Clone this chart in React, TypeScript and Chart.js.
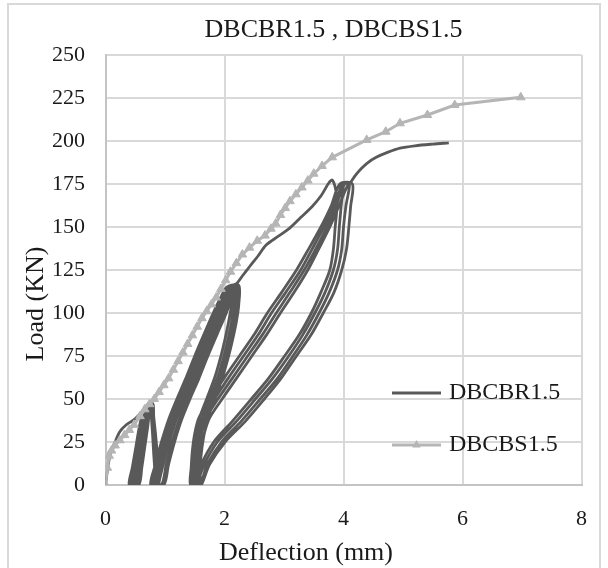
import React, { useEffect, useRef } from "react";
import { Chart, registerables } from "chart.js";

Chart.register(...registerables);

// ---------- text ----------
const chartTitle = "DBCBR1.5 , DBCBS1.5";
const xAxisTitle = "Deflection (mm)";
const yAxisTitle = "Load (KN)";
const seriesNames = ["DBCBR1.5", "DBCBS1.5"];

// ---------- axes ----------
const xMin = 0, xMax = 8, xStep = 2;
const yMin = 0, yMax = 250, yStep = 25;

// ---------- DBCBR1.5 (cyclic test) ----------
// initial loading
const brInitX = [0, 0.05, 0.1, 0.16, 0.24, 0.35, 0.48, 0.6, 0.72, 0.78];
const brInitY = [0, 13, 20, 25, 31, 35, 38, 42, 46, 48];

// level 1 (~47 kN)
const l1Y = [0, 10, 22, 34, 42, 47];
const l1aX = [0.4, 0.45, 0.51, 0.57, 0.63, 0.71];
const l1bX = [0.44, 0.49, 0.55, 0.61, 0.66, 0.73];
const l1cX = [0.48, 0.53, 0.59, 0.65, 0.69, 0.75];
const l1dX = [0.52, 0.57, 0.63, 0.68, 0.72, 0.77];
const l1eX = [0.56, 0.61, 0.66, 0.71, 0.74, 0.79];
const l1fX = [0.46, 0.51, 0.57, 0.63, 0.67, 0.74];
const r1Y = [47, 40, 30, 18, 8, 0];
const r1aX = [0.76, 0.77, 0.79, 0.81, 0.83, 0.84];
const r1bX = [0.78, 0.79, 0.81, 0.84, 0.86, 0.87];
const r1cX = [0.8, 0.81, 0.84, 0.87, 0.89, 0.9];

// level 2 (~115 kN)
const l2Y = [0, 12, 25, 38, 50, 62, 75, 88, 100, 110, 115];
const l2aX = [0.76, 0.84, 0.94, 1.06, 1.2, 1.35, 1.5, 1.66, 1.81, 1.95, 2.04];
const l2bX = [0.8, 0.88, 0.98, 1.1, 1.24, 1.39, 1.54, 1.7, 1.86, 1.99, 2.07];
const l2cX = [0.85, 0.93, 1.03, 1.15, 1.29, 1.44, 1.59, 1.75, 1.9, 2.02, 2.09];
const l2dX = [0.89, 0.97, 1.07, 1.19, 1.33, 1.48, 1.63, 1.79, 1.94, 2.06, 2.12];
const l2eX = [0.94, 1.02, 1.12, 1.24, 1.38, 1.53, 1.68, 1.84, 1.99, 2.1, 2.15];
const l2fX = [0.98, 1.06, 1.16, 1.28, 1.42, 1.57, 1.72, 1.88, 2.03, 2.13, 2.18];
const l2gX = [0.82, 0.9, 1.0, 1.12, 1.26, 1.41, 1.56, 1.72, 1.88, 2.0, 2.08];
const r2Y = [116, 105, 95, 85, 75, 63, 50, 40, 28, 15, 0];
const r2aX = [2.16, 2.12, 2.07, 2.01, 1.94, 1.84, 1.7, 1.59, 1.51, 1.46, 1.44];
const r2bX = [2.18, 2.16, 2.12, 2.06, 1.99, 1.89, 1.75, 1.64, 1.56, 1.51, 1.49];
const r2cX = [2.21, 2.2, 2.16, 2.1, 2.03, 1.93, 1.79, 1.68, 1.6, 1.55, 1.53];
const r2dX = [2.24, 2.24, 2.2, 2.14, 2.07, 1.97, 1.84, 1.73, 1.65, 1.6, 1.58];

// envelope from level 2 to level 3
const envX = [2.2, 2.3, 2.42, 2.56, 2.7, 2.9, 3.09, 3.28, 3.47, 3.62, 3.75, 3.81, 3.87];
const envY = [117, 121.5, 126.9, 133, 139.5, 144.5, 149.2, 155.5, 161.8, 168, 175.4, 177.3, 171.5];

// level 3 (~175 kN)
const r3Y = [175, 162, 150, 137, 125, 112, 100, 87, 75, 62, 50, 37, 25, 12, 0];
const r3aX = [3.92, 3.89, 3.86, 3.83, 3.77, 3.62, 3.46, 3.25, 3.01, 2.74, 2.45, 2.13, 1.82, 1.61, 1.49];
const r3bX = [4.0, 3.96, 3.93, 3.9, 3.83, 3.69, 3.52, 3.31, 3.08, 2.81, 2.52, 2.2, 1.88, 1.66, 1.53];
const r3cX = [4.1, 4.04, 4.0, 3.97, 3.9, 3.76, 3.59, 3.38, 3.15, 2.89, 2.6, 2.28, 1.95, 1.71, 1.58];
const r3dX = [4.15, 4.12, 4.09, 4.05, 3.97, 3.84, 3.66, 3.45, 3.21, 2.95, 2.67, 2.35, 2.01, 1.75, 1.61];
const l3Y = [0, 10, 20, 30, 39, 50, 62, 75, 87, 100, 112, 125, 137, 150, 162, 175];
const l3aX = [1.43, 1.44, 1.46, 1.5, 1.57, 1.76, 1.99, 2.25, 2.49, 2.72, 2.96, 3.21, 3.41, 3.62, 3.79, 3.94];
const l3bX = [1.47, 1.48, 1.51, 1.56, 1.63, 1.83, 2.06, 2.32, 2.56, 2.79, 3.03, 3.28, 3.47, 3.67, 3.83, 3.98];
const l3cX = [1.51, 1.52, 1.55, 1.61, 1.69, 1.89, 2.13, 2.39, 2.63, 2.87, 3.1, 3.34, 3.53, 3.72, 3.87, 4.02];
const l3dX = [1.55, 1.56, 1.6, 1.66, 1.75, 1.96, 2.2, 2.46, 2.7, 2.94, 3.17, 3.4, 3.58, 3.77, 3.92, 4.08];

// final loading to failure
const brFinalX = [4.12, 4.2, 4.3, 4.4, 4.55, 4.75, 4.95, 5.2, 5.5, 5.77];
const brFinalY = [176, 180, 184, 187.2, 190.5, 193.5, 195.8, 197.2, 198.2, 198.9];

// ---------- DBCBS1.5 (monotonic) ----------
const bsX = [0, 0.03, 0.06, 0.1, 0.16, 0.24, 0.32, 0.4, 0.48, 0.58, 0.66, 0.74, 0.82, 0.9, 0.98, 1.06, 1.14, 1.22, 1.3, 1.38, 1.46, 1.54, 1.62, 1.7, 1.78, 1.86, 1.94, 2.02, 2.1, 2.2, 2.3, 2.42, 2.55, 2.68, 2.78, 2.86, 2.94, 3.02, 3.1, 3.2, 3.3, 3.4, 3.5, 3.64, 3.81, 4.39, 4.71, 4.95, 5.41, 5.87, 6.98];
const bsY = [0, 10, 17, 20, 23, 26, 29, 32, 35, 40, 44, 47, 50, 54, 58, 62, 67, 72, 77, 82, 87, 92, 97, 101, 105, 109, 114, 119, 124, 129, 134, 138, 142, 145, 149, 152, 157, 161, 165, 169, 173, 177, 181, 185.5, 190.5, 200.6, 205.4, 210.3, 215.1, 220.9, 225.4];

// ---------- styles ----------
const FONT = "'Liberation Serif', 'Times New Roman', Times, serif";
const TEXT = "#1a1a1a";
const DARK = "#595959";
const LIGHT = "#b5b5b5";

type P = { x: number; y: number };
const pts = (xs: number[], ys: number[]): P[] => xs.map((x, i) => ({ x, y: ys[i] }));
const rev = (p: P[]): P[] => p.slice().reverse();

function buildBR(): P[] {
  const out: P[] = [];
  const add = (p: P[]) => out.push(...p);
  add(pts(brInitX, brInitY));
  // level 1 cycles
  add(rev(pts(l1eX, l1Y)));
  add(pts(l1aX, l1Y));
  add(pts(r1aX, r1Y));
  add(rev(pts(r1bX, r1Y)));
  add(rev(pts(l1dX, l1Y)));
  add(pts(l1bX, l1Y));
  add(rev(pts(l1cX, l1Y)));
  add(pts(l1fX, l1Y));
  add(pts(r1cX, r1Y));
  // level 2 cycles
  add(pts(l2dX, l2Y));
  add(pts(r2aX, r2Y));
  add(rev(pts(r2bX, r2Y)));
  add(rev(pts(l2aX, l2Y)));
  add(pts(l2eX, l2Y));
  add(pts(r2cX, r2Y));
  add(rev(pts(r2dX, r2Y)));
  add(rev(pts(l2bX, l2Y)));
  add(pts(l2fX, l2Y));
  add(rev(pts(l2cX, l2Y)));
  add(pts(l2gX, l2Y));
  // envelope
  add(pts(envX, envY));
  // level 3 cycles
  add(pts(r3aX, r3Y).slice(1));
  add(pts(l3bX, l3Y));
  add(pts(r3bX, r3Y));
  add(pts(l3cX, l3Y));
  add(pts(r3cX, r3Y));
  add(pts(l3aX, l3Y));
  add(pts(r3dX, r3Y));
  add(pts(l3dX, l3Y));
  // final
  add(pts(brFinalX, brFinalY));
  return out;
}

const overlayPlugin = {
  id: "overlayText",
  afterDraw(chart: any) {
    const ctx = chart.ctx as CanvasRenderingContext2D;
    ctx.save();
    ctx.fillStyle = TEXT;
    ctx.font = `26px ${FONT}`;
    ctx.textAlign = "center";
    ctx.textBaseline = "alphabetic";
    ctx.fillText(chartTitle, 333.5, 37);
    ctx.fillText(xAxisTitle, 306, 560);
    ctx.save();
    ctx.translate(36, 304);
    ctx.rotate(-Math.PI / 2);
    ctx.textBaseline = "middle";
    ctx.fillText(yAxisTitle, 0, 0);
    ctx.restore();

    // legend (inside plot, right side)
    const ds = chart.data.datasets;
    const rows = [393, 445];
    ds.forEach((d: any, i: number) => {
      const y = rows[i];
      ctx.strokeStyle = d.borderColor;
      ctx.lineWidth = 3;
      ctx.beginPath();
      ctx.moveTo(392, y);
      ctx.lineTo(441, y);
      ctx.stroke();
      if (d.pointStyle === "triangle") {
        const cx = 416.5, r = 5;
        let rad = 0;
        ctx.fillStyle = d.backgroundColor;
        ctx.beginPath();
        ctx.moveTo(cx + Math.sin(rad) * r, y - Math.cos(rad) * r);
        rad += (2 * Math.PI) / 3;
        ctx.lineTo(cx + Math.sin(rad) * r, y - Math.cos(rad) * r);
        rad += (2 * Math.PI) / 3;
        ctx.lineTo(cx + Math.sin(rad) * r, y - Math.cos(rad) * r);
        ctx.closePath();
        ctx.fill();
      }
      ctx.fillStyle = TEXT;
      ctx.font = `24px ${FONT}`;
      ctx.textAlign = "left";
      ctx.textBaseline = "middle";
      ctx.fillText(d.label, 449, y);
    });
    ctx.restore();
  },
};

export default function App() {
  const ref = useRef<HTMLCanvasElement | null>(null);

  useEffect(() => {
    if (!ref.current) return;
    const chart = new Chart(ref.current, {
      type: "scatter",
      data: {
        datasets: [
          {
            label: seriesNames[0],
            data: buildBR(),
            showLine: true,
            borderColor: DARK,
            backgroundColor: DARK,
            borderWidth: 2.8,
            pointRadius: 0,
            tension: 0.3,
            order: 1,
          },
          {
            label: seriesNames[1],
            data: pts(bsX, bsY),
            showLine: true,
            borderColor: LIGHT,
            backgroundColor: LIGHT,
            pointBackgroundColor: LIGHT,
            pointBorderColor: LIGHT,
            borderWidth: 3,
            pointStyle: "triangle",
            pointRadius: 5,
            pointBorderWidth: 1,
            tension: 0,
            order: 0,
          },
        ] as any,
      },
      options: {
        responsive: false,
        animation: false,
        events: [],
        layout: { padding: { top: 55, right: 24.5, bottom: 0, left: 0 } },
        plugins: {
          legend: { display: false },
          tooltip: { enabled: false },
          title: { display: false },
        },
        scales: {
          x: {
            type: "linear",
            min: xMin,
            max: xMax,
            afterFit: (s: any) => {
              s.height = 83;
            },
            ticks: {
              stepSize: xStep,
              padding: 21,
              color: TEXT,
              font: { family: FONT, size: 22 },
            },
            grid: { color: "#d9d9d9", lineWidth: 2, drawTicks: false },
            border: { color: "#c4c4c4", width: 2 },
          },
          y: {
            type: "linear",
            min: yMin,
            max: yMax,
            afterFit: (s: any) => {
              s.width = 105.5;
            },
            ticks: {
              stepSize: yStep,
              padding: 20.5,
              color: TEXT,
              font: { family: FONT, size: 22 },
            },
            grid: { color: "#d9d9d9", lineWidth: 2, drawTicks: false },
            border: { color: "#c4c4c4", width: 2 },
          },
        },
      } as any,
      plugins: [overlayPlugin],
    });
    return () => chart.destroy();
  }, []);

  return (
    <div
      style={{
        position: "fixed",
        left: 0,
        top: 0,
        width: 608,
        height: 568,
        background: "#ffffff",
        overflow: "hidden",
      }}
    >
      <div
        style={{
          position: "absolute",
          left: 7,
          top: 3,
          width: 594,
          height: 620,
          border: "2px solid #d9d9d9",
          boxSizing: "border-box",
        }}
      />
      <canvas
        ref={ref}
        width={608}
        height={568}
        style={{ position: "absolute", left: 0, top: 0, width: 608, height: 568 }}
      />
    </div>
  );
}
